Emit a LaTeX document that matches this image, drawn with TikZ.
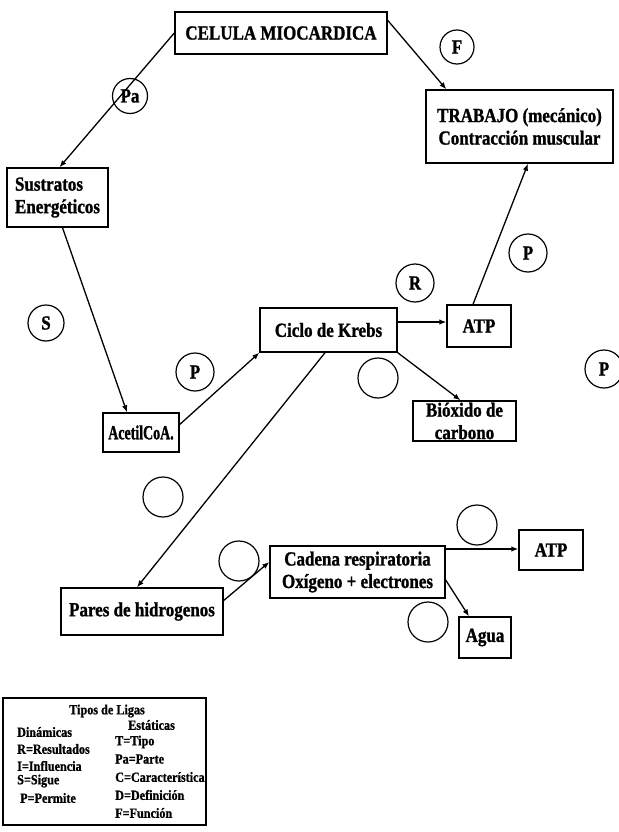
\documentclass[tikz,border=0pt]{standalone}
\usepackage{fontspec}
\setmainfont{Liberation Serif}
\newfontfamily\boxfont{Liberation Serif}[FakeStretch=0.85, BoldFeatures={FakeBold=1.2}]
\newfontfamily\legfont{Liberation Serif}[FakeStretch=0.87, BoldFeatures={FakeBold=1}]
\usetikzlibrary{arrows.meta}

\begin{document}
\begin{tikzpicture}[x=1pt,y=-1pt,
  box/.style={draw, line width=1.4pt, inner sep=0pt, align=center,
    font=\boxfont\bfseries\fontsize{20}{22.5}\selectfont},
  tag/.style={draw, circle, line width=1.2pt, minimum size=38pt, inner sep=0pt,
    font=\boxfont\bfseries\fontsize{20}{22}\selectfont},
  link/.style={line width=1.3pt, -{Latex[length=7pt,width=5.5pt]}},
  leg/.style={anchor=west, inner sep=0pt, font=\legfont\bfseries\fontsize{14}{15}\selectfont}]

\useasboundingbox (0,0) rectangle (618,832);

% concept boxes
\node[box, minimum width=212pt, minimum height=42pt] (cel) at (281,33) {CELULA MIOCARDICA};
\node[box, minimum width=187pt, minimum height=73pt] (trab) at (519.5,126.5) {TRABAJO (mecánico)\\Contracción muscular};
\node[box, minimum width=101pt, minimum height=59pt, align=left] (sus) at (57.5,197.5) {Sustratos\\ Energéticos};
\node[box, minimum width=137pt, minimum height=44pt] (krebs) at (328.5,330) {Ciclo de Krebs};
\node[box, minimum width=64pt, minimum height=42pt] (atpa) at (479,326) {ATP};
\node[box, minimum width=103pt, minimum height=40pt] (biox) at (464.5,421) {Bióxido de\\carbono};
\node[box, minimum width=76pt, minimum height=39pt] (acet) at (141,432.5) {\scalebox{0.82}[1]{AcetilCoA.}};
\node[box, minimum width=162pt, minimum height=47pt] (pares) at (142,611.5) {Pares de hidrogenos};
\node[box, minimum width=175pt, minimum height=52pt] (cad) at (357.5,572) {Cadena respiratoria\\Oxígeno + electrones};
\node[box, minimum width=64pt, minimum height=40pt] (atpb) at (551,550) {ATP};
\node[box, minimum width=52pt, minimum height=41pt] (agua) at (485,637.5) {Agua};

% link-type circles
\node[tag, minimum size=35pt] (cPa) at (130,96) {Pa};
\node[tag, minimum size=34pt] (cF) at (457,47) {F};
\node[tag, minimum size=36pt] (cS) at (46,323) {S};
\node[tag] (cP1) at (195,372) {P};
\node[tag] (cR) at (415,283) {R};
\node[tag] (cP2) at (528,253) {P};
\node[tag, minimum size=40pt] (cE1) at (378,378) {};
\node[tag] (cP3) at (604,369) {P};
\node[tag, minimum size=40pt] (cE2) at (163,497) {};
\node[tag, minimum size=40pt] (cE3) at (239,561) {};
\node[tag, minimum size=40pt] (cE4) at (477,525) {};
\node[tag, minimum size=40pt] (cE5) at (428,622) {};

% connectors
\draw[link] (cel.west) -- ([xshift=2pt]sus.north);
\draw[link] ([yshift=-9pt]cel.north east) -- ([xshift=21pt]trab.north west);
\draw[link] ([xshift=5pt]sus.south) -- ([xshift=-14pt]acet.north);
\draw[link] ([yshift=8pt]acet.east) -- (krebs.south west);
\draw[link] ([yshift=8pt]krebs.east) -- ([yshift=8pt]krebs.east -| atpa.west);
\draw[link] ([xshift=-6pt]atpa.north) -- ([xshift=8.5pt]trab.south);
\draw[link] (krebs.south east) -- ([xshift=-4pt]biox.north);
\draw[link] ([xshift=-3.5pt]krebs.south) -- ([xshift=-5pt]pares.north);
\draw[link] ([yshift=11pt]pares.east) -- ([yshift=10pt]cad.west);
\draw[link] ([yshift=23pt]cad.east) -- ([yshift=23pt]cad.east -| atpb.west);
\draw[link] ([yshift=-8pt]cad.east) -- ([xshift=-16pt]agua.north);

% legend of link types
\node[draw, line width=1.4pt, minimum width=203pt, minimum height=127pt, inner sep=0pt] (legbox) at (104.5,761.5) {};
\node[inner sep=0pt, font=\legfont\bfseries\fontsize{14}{15}\selectfont] (lt) at (107,711) {Tipos de Ligas};
\node[leg] (l1) at (17,732) {Dinámicas};
\node[leg] (l2) at (17,749) {R=Resultados};
\node[leg] (l3) at (17,766) {I=Influencia};
\node[leg] (l4) at (17,781) {S=Sigue};
\node[leg] (l5) at (20,798) {P=Permite};
\node[leg] (r1) at (128,725) {Estáticas};
\node[leg] (r2) at (115,742) {T=Tipo};
\node[leg] (r3) at (115,759) {Pa=Parte};
\node[leg] (r4) at (115,777) {C=Característica};
\node[leg] (r5) at (115,795) {D=Definición};
\node[leg] (r6) at (115,813) {F=Función};
\end{tikzpicture}
\end{document}
